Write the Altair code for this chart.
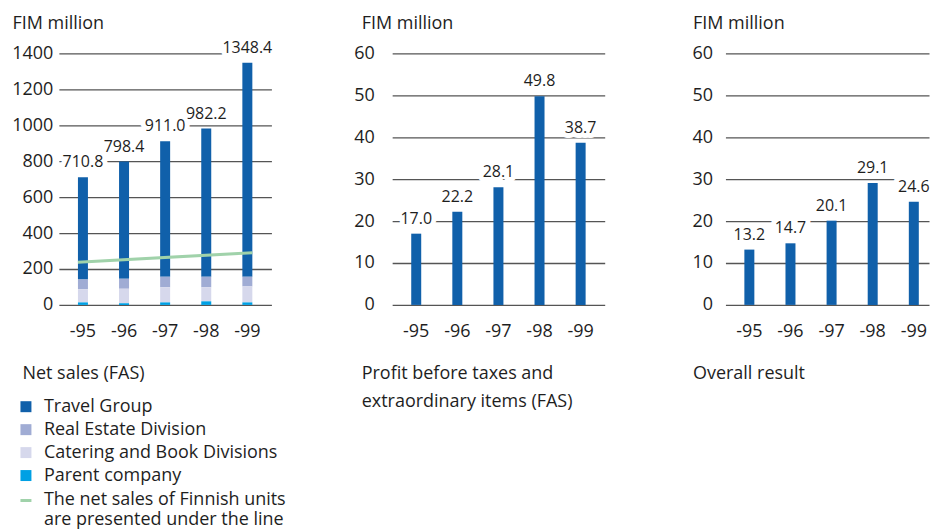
import altair as alt
import pandas as pd

FONT = "Open Sans"
TEXT = "#1e1e1e"

years = ["-95", "-96", "-97", "-98", "-99"]

# Net sales (FAS), FIM million
net_sales_total = [710.8, 798.4, 911.0, 982.2, 1348.4]
parent_company = [14, 9, 14, 20, 14]
catering_book = [73, 81, 84, 78, 89]
real_estate = [55, 56, 59, 59, 54]
travel_group = [round(t - p - c - r, 1) for t, p, c, r in
                zip(net_sales_total, parent_company, catering_book, real_estate)]

# net sales of Finnish units (line from -95 to -99)
finnish_years = ["-95", "-99"]
finnish_units = [238, 291]
finnish_label = ["The net sales of Finnish units", "are presented under the line"]

profit_before_taxes = [17.0, 22.2, 28.1, 49.8, 38.7]
overall_result = [13.2, 14.7, 20.1, 29.1, 24.6]

segment_names = ["Travel Group", "Real Estate Division",
                 "Catering and Book Divisions", "Parent company"]
segment_colors = ["#1060aa", "#a0acd4", "#d6d8ec", "#00a0e4"]
line_color = "#a0d2aa"
bar_color = "#1060aa"

captions = [["Net sales (FAS)"],
            ["Profit before taxes and", "extraordinary items (FAS)"],
            ["Overall result"]]

# ---------- data tables ----------
seg_values = [travel_group, real_estate, catering_book, parent_company]
rows = []
for i, y in enumerate(years):
    for k, name in enumerate(segment_names):
        rows.append({"year": y, "segment": name, "value": seg_values[k][i],
                     "stack_order": len(segment_names) - k})
seg_df = pd.DataFrame(rows)
tot_df = pd.DataFrame({"year": years, "value": net_sales_total})
line_df = pd.DataFrame({"year": [finnish_years[0]], "end": [finnish_years[1]],
                        "value": [finnish_units[0]], "to": [finnish_units[1]],
                        "label": ["|".join(finnish_label)]})
profit_df = pd.DataFrame({"year": years, "value": profit_before_taxes})
result_df = pd.DataFrame({"year": years, "value": overall_result})

W, H = 213, 252


def xscale(width=W):
    if width == W:
        return alt.Scale(domain=years, paddingInner=0.757, paddingOuter=0.464)
    return alt.Scale(domain=years, paddingInner=0.757, paddingOuter=0.354, align=0.65)


def xaxis(caption, title_x):
    return alt.Axis(domain=False, ticks=False, labelAngle=0, labelFontSize=18,
                    labelPadding=18, labelFont=FONT, labelColor=TEXT,
                    title=caption if len(caption) > 1 else caption[0],
                    titleFont=FONT, titleFontSize=18, titleFontWeight="normal",
                    titleColor=TEXT, titleAlign="left", titleBaseline="alphabetic",
                    titleX=title_x, titleY=74, titleLineHeight=28)


def yaxis(values, pad, title_x):
    return alt.Axis(values=values, format="d", domain=False, ticks=False, grid=True,
                    gridColor="#555555", gridWidth=1.3, labelFontSize=18,
                    labelFont=FONT, labelColor=TEXT, labelPadding=pad,
                    title="FIM million", titleAngle=0, titleAlign="left",
                    titleBaseline="middle", titleX=title_x, titleY=-30,
                    titleFont=FONT, titleFontSize=18, titleFontWeight="normal",
                    titleColor=TEXT)


def value_labels(df, xs, ys, xa, ya):
    base = alt.Chart(df).encode(
        x=alt.X("year:N", sort=years, scale=xs, axis=xa),
        y=alt.Y("value:Q", scale=ys, axis=ya),
        text=alt.Text("value:Q", format=".1f"),
    )
    halo = base.mark_text(dy=-15, fontSize=16, font=FONT, color="white",
                          stroke="white", strokeWidth=10, strokeJoin="round")
    txt = base.mark_text(dy=-15, fontSize=16, font=FONT, color=TEXT)
    return [halo, txt]


# ---------- chart 1: net sales ----------
xs1, ys1 = xscale(), alt.Scale(domain=[0, 1400], nice=False)
xa1, ya1 = xaxis(captions[0], -37), yaxis(list(range(0, 1401, 200)), 6, -47)
bars1 = alt.Chart(seg_df).mark_bar().encode(
    x=alt.X("year:N", sort=years, scale=xs1, axis=xa1),
    y=alt.Y("value:Q", stack="zero", scale=ys1, axis=ya1),
    color=alt.Color("segment:N",
                    scale=alt.Scale(domain=segment_names, range=segment_colors),
                    legend=alt.Legend(orient="none", legendX=-42, legendY=345,
                                      title=None, symbolType="square",
                                      symbolSize=121, symbolStrokeWidth=0,
                                      labelFont=FONT, labelFontSize=18,
                                      labelColor=TEXT, labelOffset=9,
                                      rowPadding=5, padding=0, labelLimit=400)),
    order=alt.Order("stack_order:Q", sort="ascending"),
)
rule1 = alt.Chart(line_df).mark_rule(strokeWidth=3).encode(
    x=alt.X("year:N", sort=years, scale=xs1, bandPosition=0, axis=xa1),
    x2=alt.X2("end", bandPosition=1),
    y=alt.Y("value:Q", scale=ys1, axis=ya1),
    y2=alt.Y2("to"),
    stroke=alt.Stroke("label:N",
                      scale=alt.Scale(domain=["|".join(finnish_label)],
                                      range=[line_color]),
                      legend=alt.Legend(orient="none", legendX=-42, legendY=439,
                                        title=None, symbolType="stroke",
                                        symbolSize=121, symbolStrokeWidth=3,
                                        labelFont=FONT, labelFontSize=18,
                                        labelColor=TEXT, labelOffset=9,
                                        padding=0, labelLimit=400,
                                        labelBaseline="middle",
                                        labelExpr="split(datum.label, '|')")),
)
chart1 = alt.layer(bars1, *value_labels(tot_df, xs1, ys1, xa1, ya1), rule1).properties(
    width=W, height=H)

# ---------- chart 2: profit before taxes ----------
xs2, ys2 = xscale(), alt.Scale(domain=[0, 60], nice=False)
xa2, ya2 = xaxis(captions[1], -31), yaxis(list(range(0, 61, 10)), 18, -31)
bars2 = alt.Chart(profit_df).mark_bar(color=bar_color).encode(
    x=alt.X("year:N", sort=years, scale=xs2, axis=xa2),
    y=alt.Y("value:Q", scale=ys2, axis=ya2),
)
chart2 = alt.layer(bars2, *value_labels(profit_df, xs2, ys2, xa2, ya2)).properties(
    width=W, height=H)

# ---------- chart 3: overall result ----------
W3 = 204
xs3, ys3 = xscale(W3), alt.Scale(domain=[0, 60], nice=False)
xa3, ya3 = xaxis(captions[2], -33), yaxis(list(range(0, 61, 10)), 13, -33)
bars3 = alt.Chart(result_df).mark_bar(color=bar_color).encode(
    x=alt.X("year:N", sort=years, scale=xs3, axis=xa3),
    y=alt.Y("value:Q", scale=ys3, axis=ya3),
)
chart3 = alt.layer(bars3, *value_labels(result_df, xs3, ys3, xa3, ya3)).properties(
    width=W3, height=H)

chart = alt.hconcat(chart1, chart2, chart3, spacing=121, bounds="flush").properties(
    padding={"left": 11, "top": 14, "right": 0, "bottom": 0},
    background="white",
).configure_view(stroke=None)

chart.save("out.html", embed_options={"renderer": "svg", "actions": False})
